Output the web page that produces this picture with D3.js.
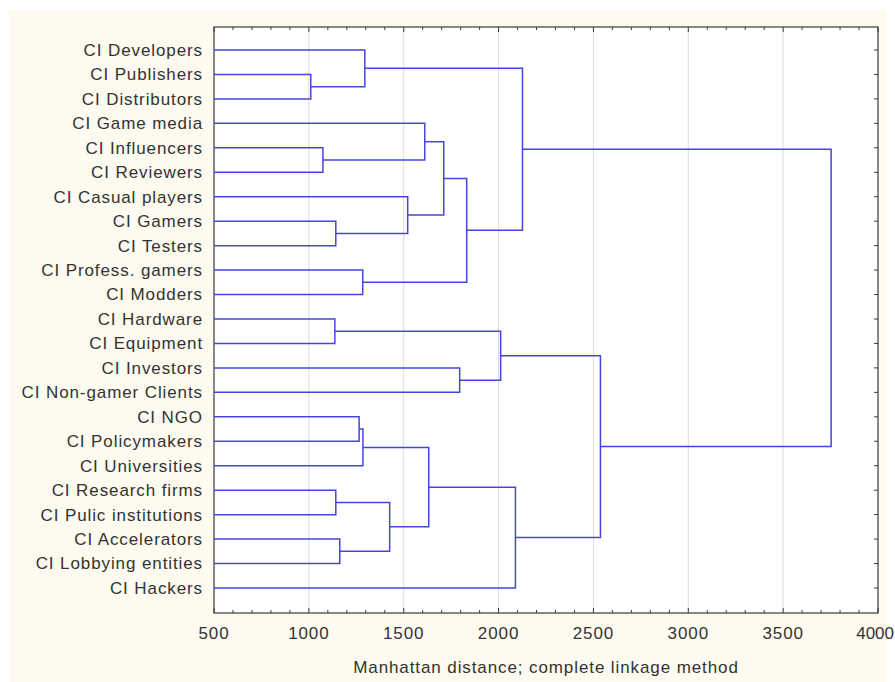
<!DOCTYPE html>
<meta charset="utf-8">
<style>

body {
  margin: 0;
  background: #fff;
}

text {
  font-family: Arial, "Liberation Sans", sans-serif;
  fill: #333;
  letter-spacing: 0.9px;
}

.leaf {
  font-size: 17px;
}

.tick-label {
  font-size: 17px;
}

.link {
  fill: none;
  stroke: #4646dc;
  stroke-width: 1.5px;
}

.grid {
  stroke: #dcdcdc;
  stroke-width: 1px;
}

.frame {
  fill: #fff;
  stroke: #3a3a3a;
  stroke-width: 1.2px;
}

.tick {
  stroke: #3a3a3a;
  stroke-width: 1px;
}

</style>
<body>
<script src="https://cdnjs.cloudflare.com/ajax/libs/d3/7.8.5/d3.min.js"></script>
<script>

// leaves, top to bottom
var labels = [
  "CI Developers", "CI Publishers", "CI Distributors", "CI Game media",
  "CI Influencers", "CI Reviewers", "CI Casual players", "CI Gamers",
  "CI Testers", "CI Profess. gamers", "CI Modders", "CI Hardware",
  "CI Equipment", "CI Investors", "CI Non-gamer Clients", "CI NGO",
  "CI Policymakers", "CI Universities", "CI Research firms",
  "CI Pulic institutions", "CI Accelerators", "CI Lobbying entities",
  "CI Hackers"
];

// merges: children are leaf indices (0..22) or 23 + merge index
var merges = [
  [1, 2],    // 23
  [0, 23],   // 24
  [4, 5],    // 25
  [3, 25],   // 26
  [7, 8],    // 27
  [6, 27],   // 28
  [26, 28],  // 29
  [9, 10],   // 30
  [29, 30],  // 31
  [24, 31],  // 32
  [11, 12],  // 33
  [13, 14],  // 34
  [33, 34],  // 35
  [15, 16],  // 36
  [36, 17],  // 37
  [18, 19],  // 38
  [20, 21],  // 39
  [38, 39],  // 40
  [37, 40],  // 41
  [41, 22],  // 42
  [35, 42],  // 43
  [32, 43]   // 44
];

// linkage distance of each merge
var heights = [
  1010, 1295, 1074, 1611, 1142, 1521, 1711, 1284, 1832, 2126,
  1137, 1795, 2011, 1265, 1285, 1142, 1163, 1426, 1632, 2089,
  2537, 3753
];

var xTicks = [500, 1000, 1500, 2000, 2500, 3000, 3500, 4000];

var width = 895,
    height = 682;

var margin = {top: 27, right: 17, bottom: 69, left: 214};

var svg = d3.select("body").append("svg")
    .attr("width", width)
    .attr("height", height);

// cream panel
svg.append("rect")
    .attr("x", 9)
    .attr("y", 10)
    .attr("width", 877)
    .attr("height", height - 10)
    .attr("fill", "#fdfaef");

var x = d3.scaleLinear()
    .domain([500, 4000])
    .range([margin.left, width - margin.right]);

var y = d3.scalePoint()
    .domain(d3.range(labels.length))
    .range([50, 588]);

var plotTop = margin.top,
    plotBottom = height - margin.bottom;

svg.append("rect")
    .attr("class", "frame")
    .attr("x", x(500))
    .attr("y", plotTop)
    .attr("width", x(4000) - x(500))
    .attr("height", plotBottom - plotTop);

// grid
svg.selectAll(".grid")
    .data(xTicks.slice(1, -1))
  .enter().append("line")
    .attr("class", "grid")
    .attr("x1", x).attr("x2", x)
    .attr("y1", plotTop + 1).attr("y2", plotBottom - 1);

// minor and major ticks on top and bottom
var minor = d3.range(500, 4001, 100);
minor.forEach(function(v) {
  var len = v % 500 === 0 ? 5 : 3;
  svg.append("line").attr("class", "tick")
      .attr("x1", x(v)).attr("x2", x(v))
      .attr("y1", plotTop).attr("y2", plotTop + len);
  svg.append("line").attr("class", "tick")
      .attr("x1", x(v)).attr("x2", x(v))
      .attr("y1", plotBottom).attr("y2", plotBottom - len);
});

// right-side ticks per row
svg.selectAll(".rtick")
    .data(d3.range(labels.length))
  .enter().append("line")
    .attr("class", "tick")
    .attr("x1", x(4000)).attr("x2", x(4000) - 4)
    .attr("y1", y).attr("y2", y);

// tick labels (last one kept inside the window)
svg.selectAll(".tick-label")
    .data(xTicks)
  .enter().append("text")
    .attr("class", "tick-label")
    .attr("x", function(d, i) { return i === xTicks.length - 1 ? width - 1 : x(d); })
    .attr("y", 639)
    .attr("text-anchor", function(d, i) { return i === xTicks.length - 1 ? "end" : "middle"; })
    .style("letter-spacing", function(d, i) { return i === xTicks.length - 1 ? "0px" : null; })
    .text(function(d) { return d; });

svg.append("text")
    .attr("class", "tick-label")
    .attr("x", (x(500) + x(4000)) / 2)
    .attr("y", 673)
    .attr("text-anchor", "middle")
    .text("Manhattan distance; complete linkage method");

// leaf labels
svg.selectAll(".leaf")
    .data(labels)
  .enter().append("text")
    .attr("class", "leaf")
    .attr("x", 203)
    .attr("y", function(d, i) { return y(i); })
    .attr("dy", "0.35em")
    .attr("text-anchor", "end")
    .text(function(d) { return d; });

// node positions
var nodes = labels.map(function(d, i) { return {pos: i, h: 500}; });
merges.forEach(function(m, i) {
  var a = nodes[m[0]], b = nodes[m[1]];
  nodes.push({pos: (a.pos + b.pos) / 2, h: heights[i], a: a, b: b});
});

var yPos = function(p) { return 50 + p * (y.step()); };

svg.selectAll(".link")
    .data(nodes.slice(labels.length))
  .enter().append("path")
    .attr("class", "link")
    .attr("d", function(n) {
      var xh = x(n.h);
      return "M" + x(n.a.h) + "," + yPos(n.a.pos) +
             "H" + xh + "V" + yPos(n.b.pos) +
             "H" + x(n.b.h);
    });

</script>
